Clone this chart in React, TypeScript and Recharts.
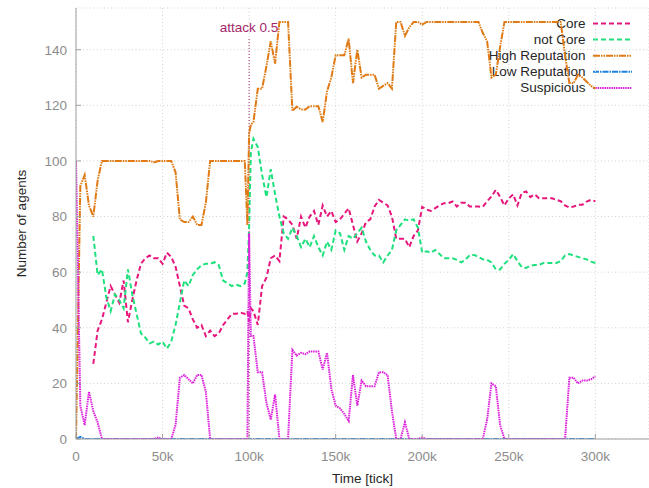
import React from 'react';
import { LineChart, Line, XAxis, YAxis, CartesianGrid, ReferenceLine, Label } from 'recharts';

// time in thousands of ticks
const TIME_K = [
  0, 2.5, 5, 7.5, 10, 12.5, 15, 17.5, 20, 22.5,
  25, 27.5, 30, 32.5, 35, 37.5, 40, 42.5, 45, 47.5,
  50, 52.5, 55, 57.5, 60, 62.5, 65, 67.5, 70, 72.5,
  75, 77.5, 80, 82.5, 85, 87.5, 90, 92.5, 95, 97.5,
  99, 100, 101,
  102.5, 105, 107.5, 110, 112.5, 115, 117.5, 120, 122.5, 125,
  127.5, 130, 132.5, 135, 137.5, 140, 142.5, 145, 147.5, 150,
  152.5, 155, 157.5, 160, 162.5, 165, 167.5, 170, 172.5, 175,
  177.5, 180, 182.5, 185, 187.5, 190, 192.5, 195, 197.5, 200,
  202.5, 205, 207.5, 210, 212.5, 215, 217.5, 220, 222.5, 225,
  227.5, 230, 232.5, 235, 237.5, 240, 242.5, 245, 247.5, 250,
  252.5, 255, 257.5, 260, 262.5, 265, 267.5, 270, 272.5, 275,
  277.5, 280, 282.5, 285, 287.5, 290, 292.5, 295, 297.5, 300,
];

const CORE = [
  null, null, null, null, 27, 39, 43, 49, 55, 52,
  49, 57, 42, 50, 57, 63, 65, 66, 65, 65,
  63, 67, 65.5, 62, 55, 48, 47, 43, 40, 41,
  37, 39, 37, 38, 41, 43, 45, 45, 45.5, 45,
  46, 42, 47,
  46, 41, 55, 58, 65, 66, 64, 80, 79, 77,
  72, 80, 76, 80, 82, 77, 84, 80, 82, 78,
  79, 81, 83, 77, 71, 74, 78, 79, 83.6, 86,
  85, 84, 80, 72, 72, 72, 69, 73, 75, 83.5,
  82.5, 82, 83, 84, 84.8, 84.8, 85.4, 83.6, 85, 85,
  83.6, 83.6, 83.6, 83.5, 85.5, 87.2, 89.6, 87, 84, 86.5,
  88, 84, 88.5, 89, 87, 88, 86.6, 86.6, 86.6, 86.6,
  86, 85.5, 84, 83.2, 83.6, 84.2, 84.2, 85.4, 86, 85.5,
];

const NOT_CORE = [
  null, null, null, null, 73, 59, 61, 51, 46, 52,
  50, 47, 61, 52, 45, 38, 36.5, 34.4, 35, 34,
  35, 32.5, 35, 41, 49, 57, 55, 59, 61, 62.5,
  63, 63, 63.6, 62.5, 57, 56, 55, 55.5, 55, 56,
  60, 76, 103,
  108, 105, 95, 87, 97, 88, 80, 74, 72, 76,
  73, 69, 72, 69, 73, 69, 66, 71, 68, 75,
  74, 68, 73, 72, 74, 76, 71, 68, 66, 66,
  63.5, 66, 68, 75, 77, 79, 78.5, 79, 76, 67,
  67.5, 67, 68, 66.5, 65, 65, 65, 64.4, 63.5, 64.5,
  66.2, 66.2, 65.5, 64.6, 64.4, 63.5, 61, 61, 63, 64.4,
  66.5, 64, 61.8, 61.5, 62.3, 62.6, 62.6, 63.3, 63.3, 63.3,
  63.3, 64, 66, 66.5, 66, 65.5, 65, 64.6, 63.8, 63.3,
];

const HIGH_REP = [
  0, 91, 95, 84, 80, 93, 100, 100, 100, 100,
  100, 100, 100, 100, 100, 100, 100, 100, 99.5, 100,
  100, 100, 100, 96, 79, 78, 78, 80, 77, 77,
  85, 100, 100, 100, 100, 100, 100, 100, 100, 100,
  77, 110, 113,
  114, 126, 126, 134, 143, 135, 150, 150, 150, 118,
  119.5, 118.5, 118.5, 119.7, 119.7, 119.7, 114, 125, 130, 138,
  138, 138, 144, 128, 140, 130, 131, 131, 131, 126,
  127, 128, 126, 150, 150, 145, 148, 150, 150, 149,
  150, 150, 150, 150, 150, 150, 150, 150, 150, 150,
  150, 150, 150, 146, 143, 130, 131, 141, 150, 150,
  150, 150, 150, 150, 150, 150, 150, 150, 150, 150,
  150, 150, 138, 128, 128, 131, 130, 128.5, 127, 126,
];

const LOW_REP = [
  0, 0.8, 0, 0, 0, 0, 0, 0, 0, 0,
  0, 0, 0, 0, 0, 0, 0, 0, 0, 0,
  0, 0, 0, 0, 0, 0, 0, 0, 0, 0,
  0, 0, 0, 0, 0, 0, 0, 0, 0, 0,
  0, 0, 0,
  0, 0, 0, 0, 0, 0, 0, 0, 0, 0,
  0, 0, 0, 0, 0, 0, 0, 0, 0, 0,
  0, 0, 0, 0, 0, 0, 0, 0, 0, 0,
  0, 0, 0, 0, 0, 0, 0, 0, 0, 0,
  0, 0, 0, 0, 0, 0, 0, 0, 0, 0,
  0, 0, 0, 0, 0, 0, 0, 0, 0, 0,
  0, 0, 0, 0, 0, 0, 0, 0, 0, 0,
  0, 0, 0, 0, 0, 0, 0, 0, 0, 0,
];

const SUSPICIOUS = [
  100, 12, 5, 17, 10, 6, 0, 0, 0, 0,
  0, 0, 0, 0, 0, 0, 0, 0, 0, 0.5,
  0, 0, 0, 5, 22, 23, 21.5, 20, 23, 23,
  17, 0, 0, 0, 0, 0, 0, 0, 0, 0,
  0, 74, 37,
  37, 24, 24, 13, 7, 16, 0, 0, 0, 32,
  30, 31, 30.5, 31.5, 31.5, 31.5, 25, 31, 18, 12,
  11, 9, 6.5, 23, 12, 21, 19, 19, 19, 24,
  24, 23, 10, 0, 0, 6, 0, 0, 0, 0.5,
  0, 0, 0, 0, 0, 0, 0, 0, 0, 0,
  0, 0, 0, 0, 7, 20, 19, 5, 0, 0,
  0, 0, 0, 0, 0, 0, 0, 0, 0, 0,
  0, 0, 0, 22, 22, 20, 21, 21, 21.5, 22.5,
];

const X_TICKS = [0, 50000, 100000, 150000, 200000, 250000, 300000];
const Y_TICKS = [0, 20, 40, 60, 80, 100, 120, 140];
const ATTACK_TIME = 100000;
const ATTACK_LABEL = 'attack 0.5';

const SERIES = [
  { key: 'core', name: 'Core', color: '#e6167d', dash: '5 3' },
  { key: 'notCore', name: 'not Core', color: '#1ee07c', dash: '5 3' },
  { key: 'high', name: 'High Reputation', color: '#e07a14', dash: '7 1 1.5 1 1.5 1' },
  { key: 'low', name: 'Low Reputation', color: '#1e80dc', dash: '6 1 1.5 1' },
  { key: 'susp', name: 'Suspicious', color: '#dc20dc', dash: '1.5 0.8' },
];

const data = TIME_K.map((t, i) => ({
  t: t * 1000,
  core: CORE[i],
  notCore: NOT_CORE[i],
  high: HIGH_REP[i],
  low: LOW_REP[i],
  susp: SUSPICIOUS[i],
}));

const FONT = '"Liberation Sans", Arial, sans-serif';
const fmtX = (v: number) => (v === 0 ? '0' : `${v / 1000}k`);

export default function App() {
  return (
    <div style={{ position: 'absolute', left: 0, top: 0, width: 649, height: 488, background: '#fff', fontFamily: FONT }}>
      <svg width={649} height={488} style={{ position: 'absolute', left: 0, top: 0 }}>
        {SERIES.map((s, i) => {
          const y = 23.5 + i * 16.1;
          return (
            <g key={s.key}>
              <text x={585.5} y={y} textAnchor="end" dominantBaseline="central" fontSize={13.5} fill="#262626" fontFamily={FONT}>
                {s.name}
              </text>
              <line x1={593} x2={632} y1={y} y2={y} stroke={s.color} strokeWidth={2} strokeDasharray={s.dash} />
            </g>
          );
        })}
      </svg>
      <div style={{ position: 'absolute', left: 0, top: 0 }}>
        <LineChart width={649} height={488} data={data} margin={{ top: 8, right: 0, left: 0, bottom: 0 }}>
          <CartesianGrid stroke="#d2d2d2" strokeDasharray="1 2.5" />
          <XAxis
            dataKey="t"
            type="number"
            domain={[0, 331000]}
            allowDataOverflow
            ticks={X_TICKS}
            tickFormatter={fmtX}
            height={49}
            stroke="#a0a0a0"
            tickSize={-5}
            tickMargin={17}
            tick={{ fill: '#8c8c8c', fontSize: 13.5, fontFamily: FONT }}
          >
            <Label
              content={() => (
                <text x={362.5} y={478} textAnchor="middle" dominantBaseline="central" fontSize={13.5} fill="#262626" fontFamily={FONT}>
                  Time [tick]
                </text>
              )}
            />
          </XAxis>
          <YAxis
            type="number"
            domain={[0, 155]}
            allowDataOverflow
            ticks={Y_TICKS}
            width={76}
            stroke="#a0a0a0"
            tickSize={-5}
            tickMargin={14}
            tick={{ fill: '#8c8c8c', fontSize: 13.5, fontFamily: FONT }}
          >
            <Label
              content={() => (
                <text x={21} y={223.5} transform="rotate(-90 21 223.5)" textAnchor="middle" dominantBaseline="central" fontSize={13.5} fill="#262626" fontFamily={FONT}>
                  Number of agents
                </text>
              )}
            />
          </YAxis>
          <ReferenceLine
            segment={[{ x: ATTACK_TIME, y: 0 }, { x: ATTACK_TIME, y: 144.3 }]}
            stroke="#a3286b"
            strokeWidth={1}
            strokeDasharray="1 2"
            label={{ value: ATTACK_LABEL, position: 'top', offset: 6, fill: '#a3286b', fontSize: 13.5, fontFamily: FONT }}
          />
          {SERIES.map((s) => (
            <Line
              key={s.key}
              dataKey={s.key}
              name={s.name}
              type="linear"
              stroke={s.color}
              strokeWidth={2}
              strokeDasharray={s.dash}
              dot={false}
              activeDot={false}
              isAnimationActive={false}
            />
          ))}
        </LineChart>
      </div>
    </div>
  );
}
